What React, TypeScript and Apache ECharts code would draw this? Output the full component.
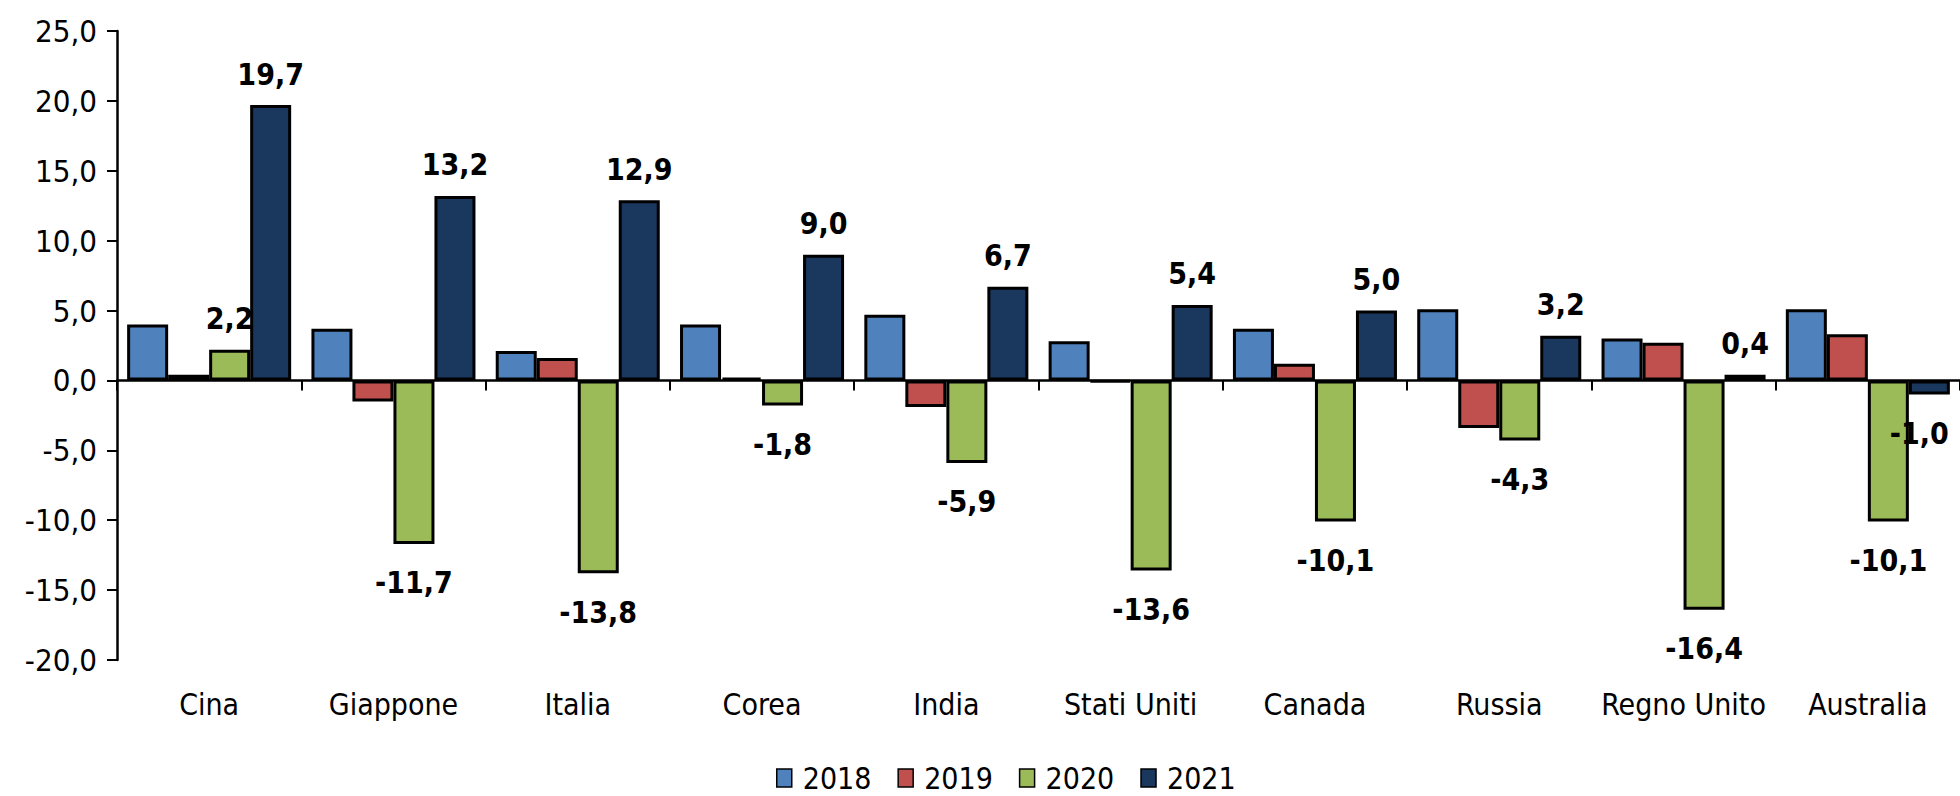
import React, { useEffect, useRef } from "react";
import * as echarts from "echarts";

const categories = ["Cina", "Giappone", "Italia", "Corea", "India", "Stati Uniti", "Canada", "Russia", "Regno Unito", "Australia"];
const seriesNames = ["2018", "2019", "2020", "2021"];
const v2018 = [4.0, 3.7, 2.1, 4.0, 4.7, 2.8, 3.7, 5.1, 3.0, 5.1];
const v2019 = [0.4, -1.5, 1.6, 0.2, -1.9, -0.1, 1.2, -3.4, 2.7, 3.3];
const v2020 = [2.2, -11.7, -13.8, -1.8, -5.9, -13.6, -10.1, -4.3, -16.4, -10.1];
const v2021 = [19.7, 13.2, 12.9, 9.0, 6.7, 5.4, 5.0, 3.2, 0.4, -1.0];
const colors = ["#4F81BD", "#C0504D", "#9BBB59", "#1A375E"];
const labeled = [false, false, true, true];

const FONT = '"Liberation Sans Narrow", "Arial Narrow", "DejaVu Sans Condensed", "Liberation Sans", sans-serif';
const fmt = (v: number) => v.toFixed(1).replace(".", ",");

export default function App() {
  const ref = useRef<HTMLDivElement>(null);
  useEffect(() => {
    if (!ref.current) return;
    const chart = echarts.init(ref.current, undefined, { renderer: "svg" });
    const all = [v2018, v2019, v2020, v2021];
    const lastIdx = categories.length - 1;
    const series = all.map((vals, i) => ({
      name: seriesNames[i],
      type: "bar",
      xAxisIndex: 0,
      yAxisIndex: 0,
      barGap: "0%",
      barCategoryGap: "11%",
      itemStyle: { color: colors[i], borderColor: "#000", borderWidth: 3 },
      data: vals.map((v, j) => ({
        value: v,
        label: labeled[i]
          ? {
              show: true,
              position: v >= 0 ? "top" : "bottom",
              distance: v >= 0 ? 16 : 24,
              offset: j === lastIdx && i === 3 ? [-10, 0] : [0, 0],
              formatter: () => fmt(v),
              fontFamily: FONT,
              fontWeight: "bold",
              fontSize: 30,
              color: "#000",
            }
          : { show: false },
      })),
    }));
    chart.setOption({
      animation: false,
      backgroundColor: "#fff",
      grid: { left: 117, right: 0, top: 31, bottom: 136, containLabel: false },
      legend: {
        data: seriesNames,
        left: 771,
        top: 758,
        itemWidth: 15,
        itemHeight: 18,
        itemGap: 26,
        icon: "rect",
        itemStyle: { borderColor: "#000", borderWidth: 1.5 },
        textStyle: { fontFamily: FONT, fontSize: 30, color: "#000", padding: [0, 0, 0, 6] },
      },
      xAxis: [
        {
          type: "category",
          data: categories,
          axisLine: { onZero: true, lineStyle: { color: "#000", width: 2.5 } },
          axisTick: { show: true, length: 10, lineStyle: { color: "#000", width: 2 } },
          axisLabel: { show: false },
          splitLine: { show: false },
        },
        {
          type: "category",
          data: categories,
          position: "bottom",
          axisLine: { show: false, onZero: false },
          axisTick: { show: false },
          axisLabel: { show: true, interval: 0, margin: 29, fontFamily: FONT, fontSize: 30, color: "#000" },
          splitLine: { show: false },
        },
      ],
      yAxis: {
        type: "value",
        min: -20,
        max: 25,
        interval: 5,
        axisLine: { show: true, lineStyle: { color: "#000", width: 2.5 } },
        axisTick: { show: true, length: 10, lineStyle: { color: "#000", width: 2 } },
        splitLine: { show: false },
        axisLabel: { formatter: (v: number) => fmt(v), fontFamily: FONT, fontSize: 31, color: "#000", margin: 20 },
      },
      series,
    });
    return () => chart.dispose();
  }, []);
  return (
    <div
      ref={ref}
      style={{ position: "fixed", left: 0, top: 0, width: 1960, height: 796, background: "#fff" }}
    />
  );
}
